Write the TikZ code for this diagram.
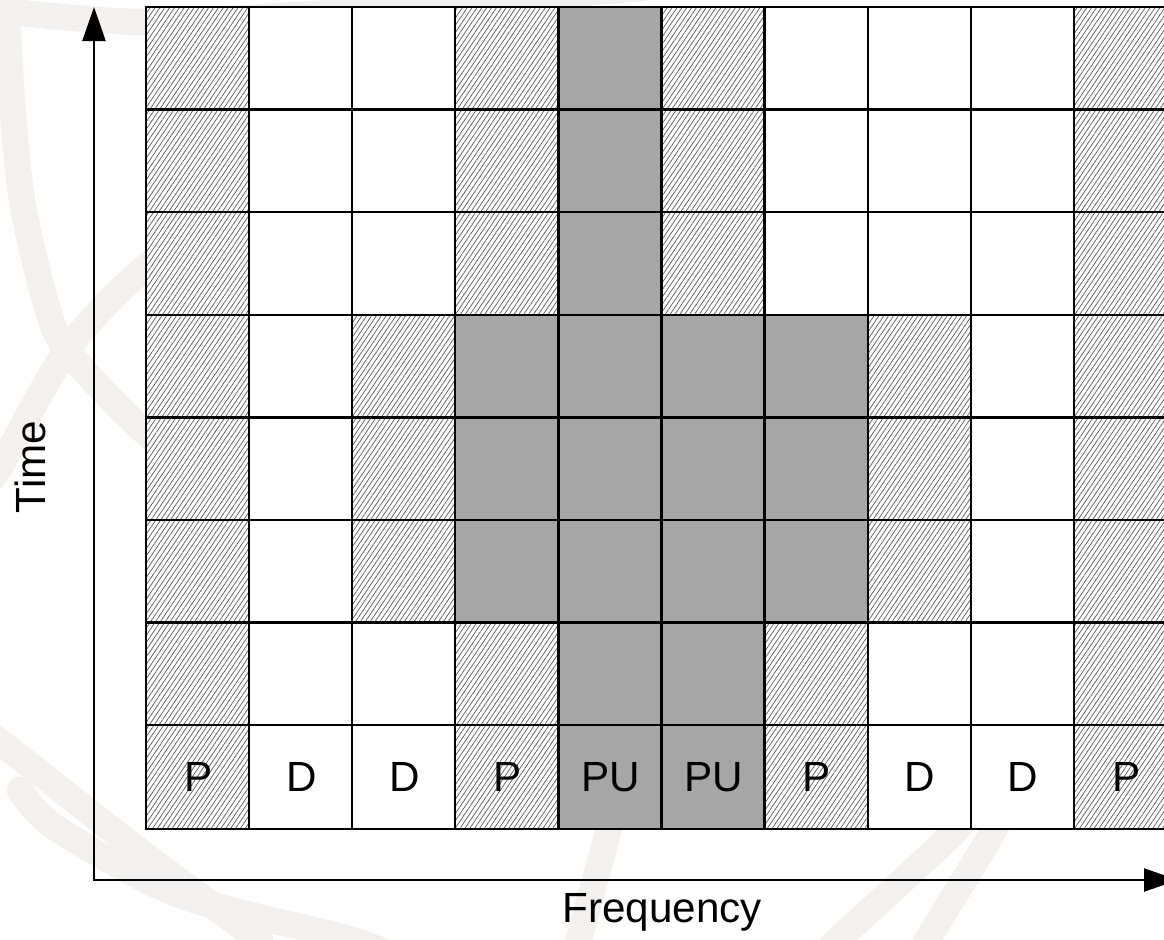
\documentclass[tikz,border=0pt]{standalone}
\usepackage{fontspec}
\setmainfont{Liberation Sans}
\usetikzlibrary{patterns.meta,arrows.meta}
\definecolor{cellgray}{RGB}{166,166,166}
\definecolor{wm}{RGB}{242,241,239}
\begin{document}
\begin{tikzpicture}[x=0.01cm,y=-0.01cm,
  wmband/.style={draw=wm,line width=7.5pt,line cap=round},
  cell/.style={draw=none,minimum width=1.031cm,minimum height=1.026cm,
    inner sep=0pt,anchor=north west,font=\fontsize{12}{14}\selectfont},
  cellh/.style={cell,preaction={fill=white},
    pattern={Lines[angle=56,distance=1.15pt,line width=0.2pt]},pattern color=black!65},
  cellw/.style={cell,fill=white},
  cellg/.style={cell,fill=cellgray},
  gridline/.style={draw=black,line width=0.65pt,line cap=rect},
  axis/.style={line width=0.65pt,{Triangle[length=0.34cm,width=0.23cm]}-{Triangle[length=0.34cm,width=0.23cm]}},
  lbl/.style={font=\fontsize{12}{14}\selectfont,inner sep=0pt}]
\clip (0,0) rectangle (1164,939);
\fill[white] (0,0) rectangle (1164,939);
% faint watermark bands
\draw[wmband] plot[smooth] coordinates {(-20,8) (146,22) (400,8) (640,-12)};
\draw[wmband] plot[smooth] coordinates {(5,-20) (12,100) (22,200) (45,300) (67,350) (146,433) (260,520)};
\draw[wmband] plot[smooth] coordinates {(260,190) (146,267) (67,350) (0,467) (-20,490)};
\draw[wmband] plot[smooth] coordinates {(-20,730) (0,742) (146,856) (260,940)};
\draw[wmband] plot[smooth] coordinates {(20,790) (56,828) (180,895) (349,939) (400,960)};
\draw[wmband] plot[smooth] coordinates {(615,790) (609,828) (579,939) (574,960)};
\draw[wmband] plot[smooth] coordinates {(990,780) (958,828) (839,939) (820,960)};
\draw[wmband] plot[smooth] coordinates {(1012,780) (995,828) (928,939) (922,960)};
% grid cells
\foreach \r in {0,1,2}
  \foreach[count=\c from 0] \t in {h,w,w,h,g,h,w,w,w,h}
    \node[cell\t] (c\r-\c) at ({146+103.1*\c},{7+102.6*\r}) {};
\foreach \r in {3,4,5}
  \foreach[count=\c from 0] \t in {h,w,h,g,g,g,g,h,w,h}
    \node[cell\t] (c\r-\c) at ({146+103.1*\c},{7+102.6*\r}) {};
\foreach[count=\c from 0] \t in {h,w,w,h,g,g,h,w,w,h}
  \node[cell\t] (c6-\c) at ({146+103.1*\c},{7+102.6*6}) {};
\foreach[count=\c from 0] \t/\l in {h/P,w/D,w/D,h/P,g/PU,g/PU,h/P,w/D,w/D,h/P}
  \node[cell\t] (c7-\c) at ({146+103.1*\c},{7+102.6*7}) {\l};
% grid lines
\foreach \c in {0,...,9}
  \draw[gridline] (c0-\c.north west) -- (c7-\c.south west);
\draw[gridline] (c0-9.north east) -- (c7-9.south east);
\foreach \r in {0,...,7}
  \draw[gridline] (c\r-0.north west) -- (c\r-9.north east);
\draw[gridline] (c7-0.south west) -- (c7-9.south east);
% axes
\coordinate (ytip) at (94,7);
\coordinate (orig) at (94,880);
\coordinate (xtip) at (1178,880);
\draw[axis] (ytip) -- (orig) -- (xtip);
\node[lbl,rotate=90] (time) at (30,467) {Time};
\node[lbl] (freq) at (662,912) {Frequency};
\end{tikzpicture}
\end{document}
